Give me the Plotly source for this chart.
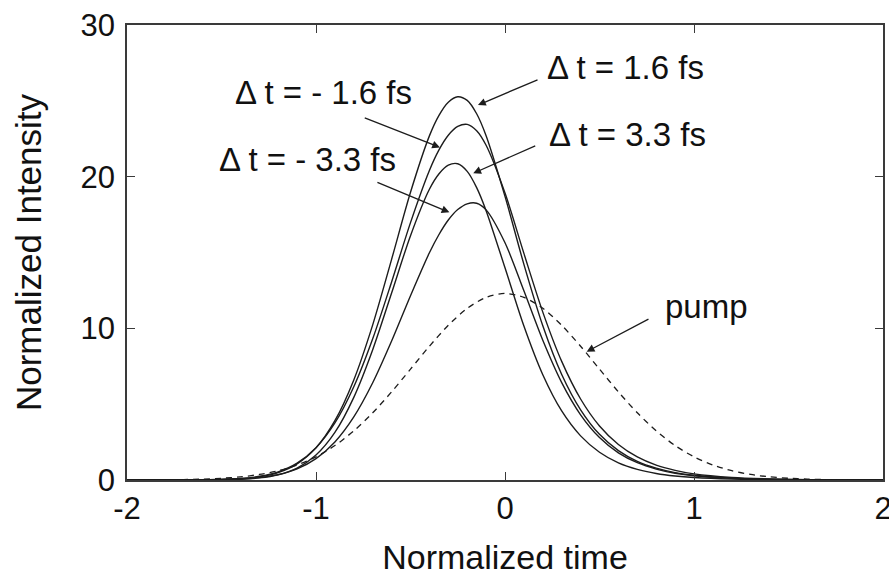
import plotly.graph_objects as go

# ---- data ----
t_signal = [-2.0, -1.8, -1.6, -1.4, -1.3, -1.2, -1.1, -1.0, -0.9, -0.8, -0.7, -0.6,
            -0.5, -0.4, -0.35, -0.3, -0.25, -0.2, -0.15, -0.1, 0.0, 0.1, 0.2, 0.3,
            0.4, 0.5, 0.6, 0.7, 0.8, 0.9, 1.0, 1.2, 1.4, 1.6, 1.8, 2.0]

# delta t = 1.6 fs (highest)
i_p16 = [0.0, 0.0, 0.009, 0.078, 0.203, 0.484, 1.06, 2.12, 3.91, 6.60, 10.23, 14.55,
         18.97, 22.69, 24.03, 24.91, 25.27, 25.03, 24.15, 22.70, 18.70, 14.22, 10.17, 6.96,
         4.63, 3.01, 1.94, 1.23, 0.78, 0.49, 0.31, 0.124, 0.049, 0.019, 0.008, 0.003]
# delta t = -1.6 fs
i_m16 = [0.0, 0.001, 0.014, 0.101, 0.243, 0.54, 1.11, 2.13, 3.76, 6.15, 9.31, 13.06,
         16.97, 20.41, 21.75, 22.73, 23.31, 23.45, 23.03, 22.07, 18.92, 14.94, 11.07, 7.82,
         5.34, 3.56, 2.34, 1.52, 0.98, 0.635, 0.40, 0.166, 0.068, 0.027, 0.011, 0.005]
# delta t = 3.3 fs
i_p33 = [0.0, 0.0, 0.005, 0.049, 0.137, 0.345, 0.79, 1.65, 3.14, 5.45, 8.59, 12.33,
         16.11, 19.17, 20.18, 20.76, 20.85, 20.35, 19.28, 17.76, 13.99, 10.15, 6.94, 4.55,
         2.91, 1.83, 1.13, 0.70, 0.43, 0.263, 0.162, 0.060, 0.022, 0.008, 0.003, 0.001]
# delta t = -3.3 fs (lowest)
i_m33 = [0.0, 0.001, 0.009, 0.066, 0.159, 0.354, 0.733, 1.41, 2.51, 4.16, 6.41, 9.16,
         12.15, 14.98, 16.17, 17.14, 17.83, 18.21, 18.25, 17.81, 15.64, 12.47, 9.21, 6.42,
         4.30, 2.80, 1.79, 1.14, 0.72, 0.446, 0.28, 0.108, 0.042, 0.016, 0.006, 0.002]

t_pump = [-2.0, -1.9, -1.8, -1.7, -1.6, -1.5, -1.4, -1.3, -1.2, -1.1, -1.0, -0.9, -0.8,
          -0.7, -0.6, -0.5, -0.4, -0.3, -0.2, -0.1, 0.0, 0.1, 0.2, 0.3, 0.4, 0.5, 0.6,
          0.7, 0.8, 0.9, 1.0, 1.1, 1.2, 1.3, 1.4, 1.5, 1.6, 1.7, 1.8, 1.9, 2.0]
i_pump = [0.003, 0.007, 0.014, 0.03, 0.059, 0.113, 0.208, 0.364, 0.612, 0.989, 1.53, 2.27,
          3.24, 4.43, 5.81, 7.31, 8.82, 10.20, 11.32, 12.04, 12.30, 12.04, 11.32, 10.20,
          8.82, 7.31, 5.81, 4.43, 3.24, 2.27, 1.53, 0.989, 0.612, 0.364, 0.208, 0.113,
          0.059, 0.03, 0.014, 0.007, 0.003]

x_ticks = [-2, -1, 0, 1, 2]
y_ticks = [0, 10, 20, 30]

labels = ["\u0394 t = 1.6 fs", "\u0394 t = 3.3 fs", "\u0394 t = - 1.6 fs", "\u0394 t = - 3.3 fs", "pump"]
label_pos = [(0.212, 27.23), (0.222, 22.81), (-1.439, 25.58), (-1.524, 21.16), (0.836, 11.47)]
arrow_tail = [(0.18, 26.43), (0.168, 22.08), (-0.75, 23.91), (-0.683, 19.67), (0.767, 10.66)]
arrow_tip = [(-0.143, 24.72), (-0.168, 20.22), (-0.344, 21.93), (-0.294, 17.65), (0.432, 8.46)]

FONT = "Liberation Sans, Arial, Helvetica, sans-serif"
LINE = "#1c1c1c"

fig = go.Figure()
for ys in [i_p16, i_m16, i_p33, i_m33]:
    fig.add_trace(go.Scatter(x=t_signal, y=ys, mode="lines",
                             line=dict(color=LINE, width=1.4, shape="spline", smoothing=0.8),
                             showlegend=False, hoverinfo="skip"))
fig.add_trace(go.Scatter(x=t_pump, y=i_pump, mode="lines",
                         line=dict(color=LINE, width=1.3, dash="6px,5px", shape="spline", smoothing=0.8),
                         showlegend=False, hoverinfo="skip"))

annotations = []
for (tx, ty), (hx, hy) in zip(arrow_tail, arrow_tip):
    annotations.append(dict(x=hx, y=hy, ax=tx, ay=ty, xref="x", yref="y", axref="x", ayref="y",
                            text="", showarrow=True, arrowhead=2, arrowsize=1.2, arrowwidth=1.3,
                            arrowcolor=LINE, standoff=0, startstandoff=0))
for txt, (lx, ly) in zip(labels, label_pos):
    annotations.append(dict(x=lx, y=ly, xref="x", yref="y", text=txt, showarrow=False,
                            xanchor="left", yanchor="middle",
                            font=dict(family=FONT, size=33, color="#111")))

axis_common = dict(showline=True, linecolor="#3a3a3a", linewidth=1.6, mirror="ticks",
                   ticks="inside", ticklen=8, tickwidth=1.4, tickcolor="#3a3a3a",
                   showgrid=False, zeroline=False, ticklabeloverflow="allow",
                   automargin=False,
                   tickfont=dict(family=FONT, size=31, color="#111"))

fig.update_layout(
    width=889, height=576,
    margin=dict(l=127, r=6, t=25, b=96, autoexpand=False),
    paper_bgcolor="white", plot_bgcolor="white",
    xaxis=dict(range=[-2, 2], tickvals=x_ticks, ticktext=[str(v) for v in x_ticks],
               title=dict(text="Normalized time", font=dict(family=FONT, size=34, color="#111"),
                          standoff=24),
               **axis_common),
    yaxis=dict(range=[0, 30], tickvals=y_ticks, ticktext=[str(v) for v in y_ticks],
               title=dict(text="Normalized Intensity", font=dict(family=FONT, size=35, color="#111"),
                          standoff=28),
               ticklabelstandoff=4,
               **axis_common),
    annotations=annotations,
)

fig.write_html("out.html")
